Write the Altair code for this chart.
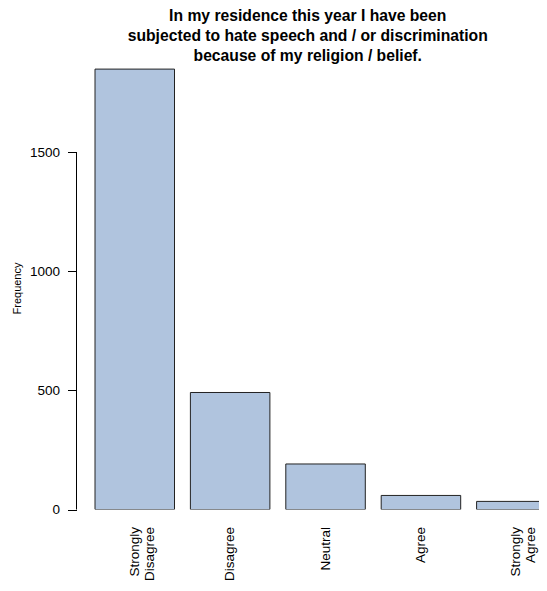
import altair as alt
import pandas as pd

categories = ["Strongly\nDisagree", "Disagree", "Neutral", "Agree", "Strongly\nAgree"]
frequencies = [1848, 491, 191, 59, 34]
y_ticks = [0, 500, 1000, 1500]
title_lines = [
    "In my residence this year I have been",
    "subjected to hate speech and / or discrimination",
    "because of my religion / belief.",
]
y_label = "Frequency"

df = pd.DataFrame({"category": categories, "freq": frequencies})
axis_df = pd.DataFrame({"lo": [min(y_ticks)], "hi": [max(y_ticks)]})

FONT = "Liberation Sans"
ymax = 1861

yscale = alt.Scale(domain=[0, ymax], nice=False, zero=True)

bars = alt.Chart(df).mark_bar(
    clip=True, fill="#B0C4DE", stroke="#222222", strokeWidth=1
).encode(
    x=alt.X(
        "category:N",
        sort=categories,
        scale=alt.Scale(range=[18.5, 479.6], paddingInner=1 / 6, paddingOuter=0),
        axis=alt.Axis(
            title=None,
            ticks=False,
            domain=False,
            labelAngle=270,
            labelAlign="right",
            labelBaseline="middle",
            labelPadding=17,
            labelFont=FONT,
            labelFontSize=13.5,
            labelColor="#000000",
            labelLineHeight=15,
            labelOverlap=False,
            labelExpr="split(datum.label, '\\n')",
        ),
    ),
    y=alt.Y(
        "freq:Q",
        scale=yscale,
        axis=alt.Axis(
            values=y_ticks,
            format="d",
            title=y_label,
            titleFont=FONT,
            titleFontSize=11,
            titleFontWeight="normal",
            titleColor="#000000",
            titleAngle=270,
            titleX=-59,
            titleY=222,
            titleAlign="center",
            titleBaseline="middle",
            domain=False,
            grid=False,
            tickSize=9,
            tickColor="#000000",
            tickWidth=1,
            labelPadding=8,
            labelFont=FONT,
            labelFontSize=13.5,
            labelColor="#000000",
            labelAngle=0,
        ),
    ),
)

yaxis_line = alt.Chart(axis_df).mark_rule(color="#000000", strokeWidth=1).encode(
    x=alt.value(0),
    y=alt.Y("lo:Q", scale=yscale),
    y2="hi:Q",
)

chart = (
    alt.layer(bars, yaxis_line)
    .properties(
        width=462.5,
        height=443.5,
        autosize=alt.AutoSizeParams(type="none"),
        padding={"left": 68.5, "top": 58, "right": 0, "bottom": 73.5},
        title=alt.TitleParams(
            text=title_lines,
            font=FONT,
            fontSize=15.7,
            fontWeight="bold",
            color="#000000",
            anchor="middle",
            frame="group",
            baseline="bottom",
            lineHeight=19.75,
            offset=4,
            dy=17.5,
        ),
    )
    .configure(background="white", view=alt.ViewConfig(stroke=None))
)

chart.save("out.html", embed_options={"renderer": "svg", "actions": False})
